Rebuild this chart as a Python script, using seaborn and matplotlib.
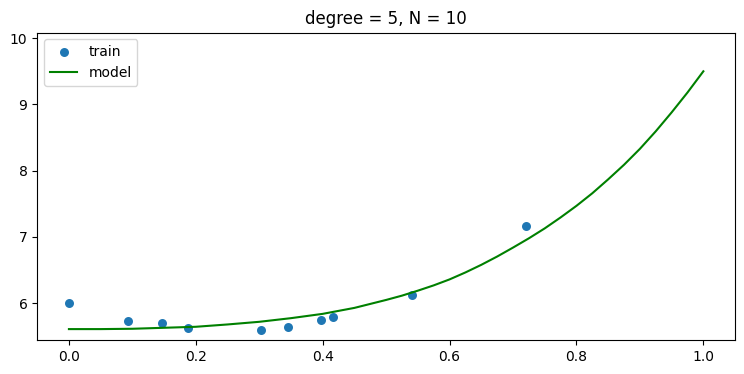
import numpy as np
import matplotlib
matplotlib.use('Agg')
import matplotlib.pyplot as plt
import seaborn as sns

# training points
x_train = [0.0, 0.093, 0.147, 0.187, 0.303, 0.345, 0.397, 0.416, 0.540, 0.721]
y_train = [6.00, 5.73, 5.70, 5.62, 5.59, 5.64, 5.74, 5.79, 6.12, 7.16]

# model curve
x_model = [0.0, 0.05, 0.1, 0.15, 0.2, 0.25, 0.3, 0.35, 0.4, 0.45, 0.5,
           0.525, 0.55, 0.575, 0.6, 0.625, 0.65, 0.675, 0.7, 0.725, 0.75,
           0.775, 0.8, 0.825, 0.85, 0.875, 0.9, 0.925, 0.95, 0.975, 1.0]
y_model = [5.61, 5.61, 5.615, 5.63, 5.645, 5.68, 5.72, 5.775, 5.84, 5.93, 6.05,
           6.115, 6.19, 6.27, 6.36, 6.465, 6.58, 6.705, 6.84, 6.98, 7.13,
           7.295, 7.47, 7.66, 7.87, 8.09, 8.33, 8.595, 8.88, 9.18, 9.50]

fig, ax = plt.subplots(figsize=(7.44, 3.74), dpi=100)
fig.subplots_adjust(left=0.050, right=0.988, top=0.913, bottom=0.091)

sns.scatterplot(x=x_train, y=y_train, ax=ax, color='C0', s=42,
                linewidth=0, label='train')
sns.lineplot(x=x_model, y=y_model, ax=ax, color='green', linewidth=1.5,
             label='model')

ax.set_ylim(5.446, 10.085)
ax.set_xlim(-0.05, 1.05)
ax.set_title('degree = 5, N = 10')
ax.legend(loc='upper left')

plt.savefig('out.png')
